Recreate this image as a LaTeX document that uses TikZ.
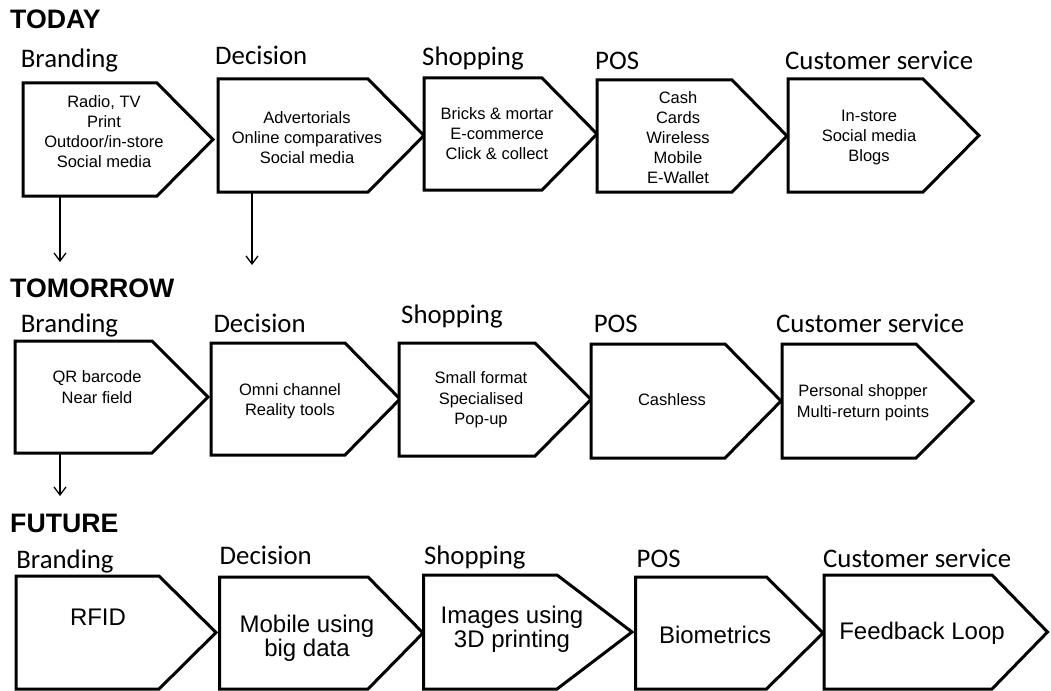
\documentclass[tikz,border=0pt]{standalone}
\usepackage{fontspec}
\setmainfont{Liberation Sans}
\newfontfamily\calfont{Carlito}
\usetikzlibrary{arrows.meta}
% chevron: name, left, top, shoulder, tip, bottom
\newcommand\chev[6]{%
  \draw[chevbox] (#2,#3) -- (#4,#3) -- (#5,{(#3+#6)/2}) -- (#4,#6) -- (#2,#6) -- cycle;
  \coordinate (#1) at (#2,#6);}
\tikzset{
  chevbox/.style={draw=black, line width=3pt, line join=miter, fill=white},
  ttl/.style={anchor=base west, inner sep=0, font=\fontsize{26.7}{30}\selectfont\bfseries},
  stage/.style={anchor=base west, inner sep=0, font=\calfont\fontsize{26.8}{30}\selectfont},
  txtA/.style={align=center, inner sep=0, font=\fontsize{16.5}{20}\selectfont},
  txtB/.style={align=center, inner sep=0, font=\fontsize{16.5}{20.5}\selectfont},
  txtC/.style={align=center, inner sep=0, font=\fontsize{24}{24.5}\selectfont},
  link/.style={line width=1.3pt, -{Straight Barb[length=8pt,width=12pt]}}
}
\begin{document}
\begin{tikzpicture}[x=1pt, y=-1pt]
\useasboundingbox (0,0) rectangle (1051,690);
\fill[white] (0,0) rectangle (1051,690);

% ---------- TODAY ----------
\node[ttl] (tToday) at (10,29) {TODAY};
\node[stage] (lB1) at (20.7,68) {Branding};
\node[stage] (lD1) at (215,65) {Decision};
\node[stage] (lS1) at (422,66) {Shopping};
\node[stage] (lP1) at (595,70) {POS};
\node[stage] (lC1) at (785,70) {Customer service};

\chev{B1}{23}{83}{157}{213}{196}
\chev{D1}{218}{79}{368}{424}{192}
\chev{S1}{424}{78}{542}{597}{190}
\chev{P1}{597}{80}{732}{787}{192}
\chev{C1}{788}{79}{923}{979}{192}

\node[txtA] (xB1) at (104,131.5) {Radio, TV\\Print\\Outdoor/in-store\\Social media};
\node[txtA] (xD1) at (307,138) {Advertorials\\Online comparatives\\Social media};
\node[txtA] (xS1) at (497,134) {Bricks \& mortar\\E-commerce\\Click \& collect};
\node[txtA] (xP1) at (678,137.5) {Cash\\Cards\\Wireless\\Mobile\\E-Wallet};
\node[txtA] (xC1) at (869,137.5) {In-store\\Social media\\Blogs};

\coordinate (o1) at (60,196);
\coordinate (e1) at (60,262);
\coordinate (o2) at (252,192);
\coordinate (e2) at (252,265);
\draw[link] (o1) -- (e1);
\draw[link] (o2) -- (e2);

% ---------- TOMORROW ----------
\node[ttl] (tTomorrow) at (10,297) {TOMORROW};
\node[stage] (lB2) at (20.7,332) {Branding};
\node[stage] (lD2) at (213.3,332) {Decision};
\node[stage] (lS2) at (401,323) {Shopping};
\node[stage] (lP2) at (593.6,332) {POS};
\node[stage] (lC2) at (776,332) {Customer service};

\chev{B2}{15}{341}{152}{208}{453}
\chev{D2}{211}{343}{345}{400}{455}
\chev{S2}{399}{343}{535}{591}{456}
\chev{P2}{591}{344}{725}{781}{458}
\chev{C2}{782}{344}{916}{973}{458}

\node[txtB] (xB2) at (97,387) {QR barcode\\Near field};
\node[txtB] (xD2) at (290,401) {Omni channel\\Reality tools};
\node[txtB] (xS2) at (481,400) {Small format\\Specialised\\Pop-up};
\node[txtB] (xP2) at (672,400) {Cashless};
\node[txtB] (xC2) at (863,402.5) {Personal shopper\\Multi-return points};

\coordinate (o3) at (60,453);
\coordinate (e3) at (60,496);
\draw[link] (o3) -- (e3);

% ---------- FUTURE ----------
\node[ttl] (tFuture) at (10,532) {FUTURE};
\node[stage] (lB3) at (16.2,568) {Branding};
\node[stage] (lD3) at (219.5,564) {Decision};
\node[stage] (lS3) at (423.8,564) {Shopping};
\node[stage] (lP3) at (636.5,567) {POS};
\node[stage] (lC3) at (823,567) {Customer service};

\chev{B3}{16}{576}{159}{216}{689}
\chev{D3}{219.5}{577}{368}{423}{689}
\chev{S3}{423.5}{575}{557}{632}{689}
\chev{P3}{635.5}{577}{766.5}{823}{689}
\chev{C3}{824}{575}{992}{1047.5}{689}

\node[txtC] (xB3) at (98,617) {RFID};
\node[txtC] (xD3) at (307,638.5) {Mobile using\\big data};
\node[txtC] (xS3) at (512,629.5) {Images using\\3D printing};
\node[txtC] (xP3) at (715,635) {Biometrics};
\node[txtC] (xC3) at (922,633) {Feedback Loop};
\end{tikzpicture}
\end{document}
